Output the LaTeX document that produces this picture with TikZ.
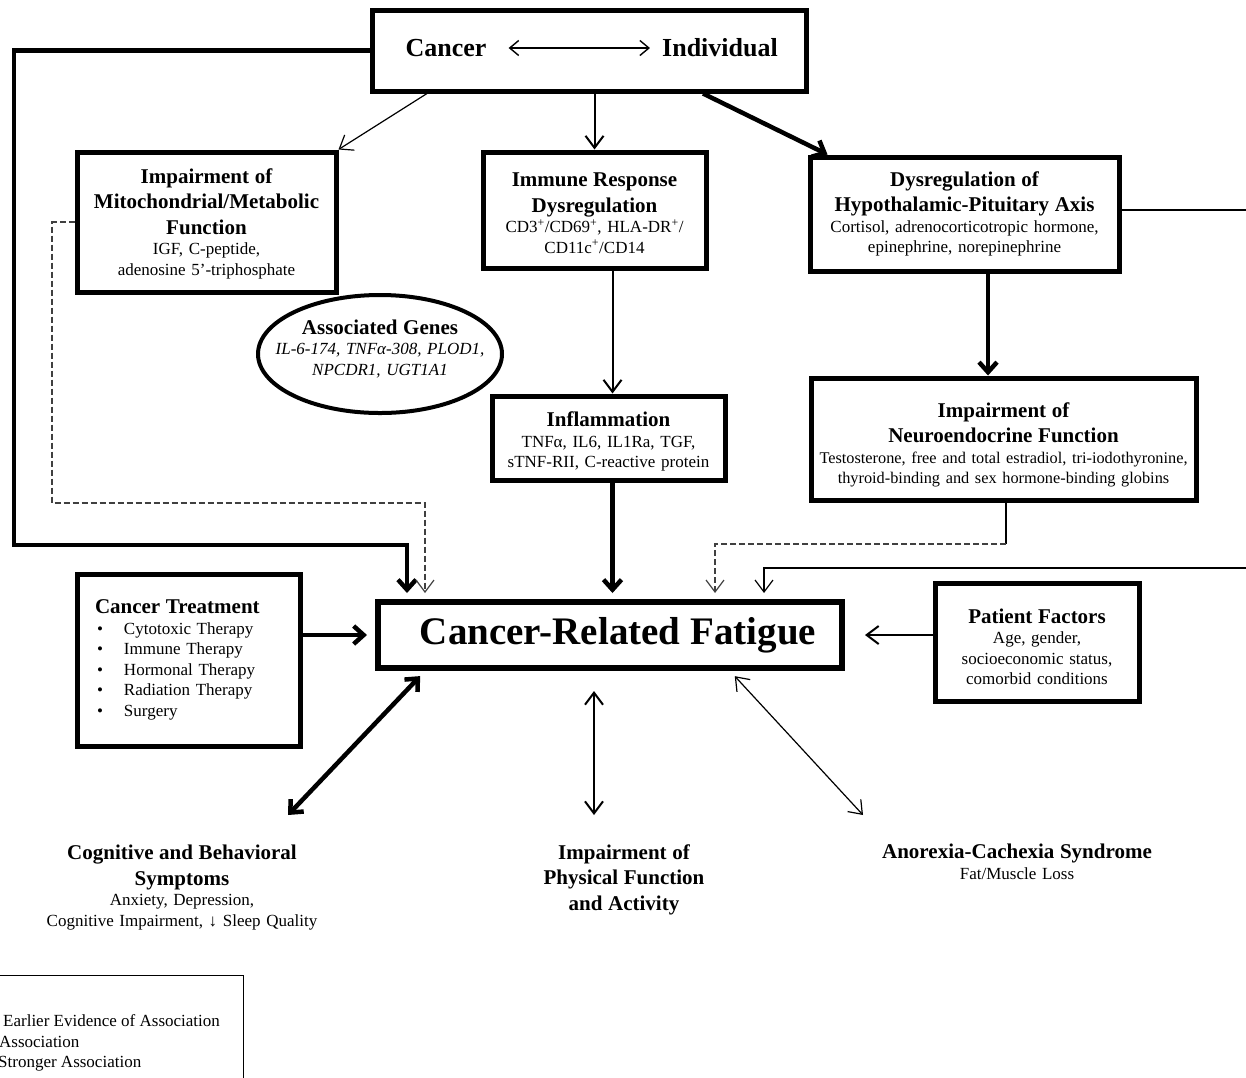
\documentclass[tikz,border=0pt]{standalone}
\usepackage{fontspec}
\setmainfont{Liberation Serif}
\usetikzlibrary{arrows.meta,shapes.geometric}
\newcommand\myhd{\bfseries\fontsize{21}{25.5}\selectfont}
\newcommand\mynm{\normalfont\fontsize{17}{20.5}\selectfont}
\newcommand\mybul{\makebox[29pt][l]{\hspace{2pt}•}}
\newcommand\mydown[1]{\rule{0pt}{#1}}
\tikzset{
  box/.style={draw, line width=5pt, inner sep=0pt, align=center, font=\mynm},
  thickln/.style={line width=4.5pt},
  medln/.style={line width=2pt},
  thinln/.style={line width=1.2pt},
  dashln/.style={line width=1.2pt, black!75, dash pattern=on 6pt off 3pt},
  bigtip/.style={>={Straight Barb[length=10pt,width=18pt]}, ->},
  bigtips/.style={>={Straight Barb[length=10pt,width=18pt]}, <->},
  smalltip/.style={>={Straight Barb[length=12pt,width=18pt]}, ->},
  smalltips/.style={>={Straight Barb[length=12pt,width=18pt]}, <->},
  lbl/.style={align=center, inner sep=0pt, font=\mynm}
}
\begin{document}
\begin{tikzpicture}[x=1pt,y=-1pt]
\useasboundingbox (0,0) rectangle (1246,1077);
\fill[white] (0,0) rectangle (1246,1077);

% top box
\node[box, minimum width=434pt, minimum height=81pt] (top) at (589,50.5) {};
\node[inner sep=0pt, font=\bfseries\fontsize{26}{30}\selectfont] (cancerT) at (446,48) {Cancer};
\node[inner sep=0pt, font=\bfseries\fontsize{26}{30}\selectfont] (indivT) at (720,48) {Individual};
\draw[line width=1.4pt, >={Straight Barb[length=9pt,width=15pt]}, <->, shorten <=22pt, shorten >=12pt] (cancerT.east) -- (indivT.west);

% second row
\node[box, minimum width=259pt, minimum height=140pt, text width=255pt] (mito) at (206.5,222)
  {{\myhd\mydown{18.5pt}Impairment of\\Mitochondrial/Metabolic\\Function\par}{\mynm IGF, C-peptide,\\adenosine 5’-triphosphate\par}};
\node[box, minimum width=223pt, minimum height=116pt, text width=219pt] (immune) at (594.5,210)
  {{\myhd\mydown{20pt}Immune Response\\Dysregulation\par}{\mynm CD3\textsuperscript{+}/CD69\textsuperscript{+}, HLA-DR\textsuperscript{+}/\\CD11c\textsuperscript{+}/CD14\par}};
\node[box, minimum width=309pt, minimum height=114pt, text width=305pt] (hpa) at (964.5,214)
  {{\myhd Dysregulation of\\Hypothalamic-Pituitary Axis\par}{\mynm Cortisol, adrenocorticotropic hormone,\\epinephrine, norepinephrine\par}};

% genes ellipse
\node[ellipse, draw, line width=4pt, fill=white, minimum width=244pt, minimum height=118pt, inner sep=0pt] (genes) at (380,354) {};
\node[lbl, text width=230pt] (genesT) at (380,349)
  {{\myhd Associated Genes\par}{\mynm\itshape IL-6-174, TNFα-308, PLOD1,\\NPCDR1, UGT1A1\par}};

% third row
\node[box, fill=white, minimum width=233pt, minimum height=84pt, text width=229pt] (infl) at (608.5,438)
  {{\myhd\mydown{22.5pt}Inflammation\par}{\mynm TNFα, IL6, IL1Ra, TGF,\\sTNF-RII, C-reactive protein\par}};
\node[box, minimum width=385pt, minimum height=122pt, text width=381pt] (neuro) at (1003.5,439)
  {{\myhd\mydown{26.5pt}Impairment of\\Neuroendocrine Function\par}{\normalfont\fontsize{16.3}{20.5}\selectfont Testosterone, free and total estradiol, tri-iodothyronine,\\thyroid-binding and sex hormone-binding globins\par}};

% central row
\node[box, line width=6pt, minimum width=464pt, minimum height=66pt, font=\bfseries\fontsize{39}{45}\selectfont] (crf) at (610,635) {\hspace*{16pt}Cancer-Related Fatigue};
\node[box, align=left, minimum width=223pt, minimum height=172pt, text width=187pt] (treat) at (188.5,660)
  {{\myhd Cancer Treatment\par}{\mynm \mybul Cytotoxic Therapy\\\mybul Immune Therapy\\\mybul Hormonal Therapy\\\mybul Radiation Therapy\\\mybul Surgery\par}};
\node[box, minimum width=204pt, minimum height=118pt, text width=200pt] (patient) at (1037,642)
  {{\myhd\mydown{24.5pt}Patient Factors\par}{\mynm Age, gender,\\socioeconomic status,\\comorbid conditions\par}};

% bottom labels
\node[lbl, text width=320pt, anchor=north] (cog) at (182,845)
  {{\myhd Cognitive and Behavioral\\Symptoms\par}{\mynm Anxiety, Depression,\\Cognitive Impairment, ↓ Sleep Quality\par}};
\node[lbl, text width=260pt, anchor=north] (phys) at (624,844)
  {{\myhd Impairment of\\Physical Function\\and Activity\par}};
\node[lbl, text width=320pt, anchor=north] (anor) at (1017,844)
  {{\myhd Anorexia-Cachexia Syndrome\par}{\mynm Fat/Muscle Loss\par}};

% legend
\node[draw, line width=1pt, minimum width=263pt, minimum height=115pt, inner sep=0pt] (legend) at (111.5,1032.5) {};
\node[lbl, anchor=west] (leg1) at (3,1021) {Earlier Evidence of Association};
\node[lbl, anchor=west] (leg2) at (-1,1042) {Association};
\node[lbl, anchor=west] (leg3) at (-2,1064) {Stronger Association};

% connectors from top
\coordinate (lc) at (14,545);
\draw[thickln, bigtip, shorten >=6pt] (top.west) -| (lc) -| ([xshift=32pt]crf.north west);
\draw[thinln, smalltip] ([xshift=-162pt]top.south) -- (mito.north east);
\draw[medln, smalltip] (immune.north |- top.south) -- (immune.north);
\draw[thickln, bigtip] ([xshift=114pt]top.south) -- ([xshift=20pt]hpa.north west);

% vertical chains
\draw[medln, smalltip] ([xshift=4pt]infl.north |- immune.south) -- ([xshift=4pt]infl.north);
\draw[thickln, bigtip] ([xshift=23.5pt]hpa.south) -- ([xshift=23.5pt]hpa.south |- neuro.north);
\draw[thickln, bigtip, shorten >=6pt] ([xshift=4pt]infl.south) -- ([xshift=4pt]infl.south |- crf.north);

% dashed from mitochondrial
\coordinate (dm) at (52,503);
\draw[dashln, smalltip, shorten >=6pt] (mito.west) -| (dm) -| ([xshift=50pt]crf.north west);

% from neuroendocrine
\coordinate (nd) at (1006,544);
\draw[thinln] ([xshift=2.5pt]neuro.south) -- (nd);
\draw[dashln, smalltip, shorten >=6pt] (nd) -| ([xshift=340pt]crf.north west);

% from HPA via right edge
\coordinate (ra) at (1252,210);
\coordinate (rb) at (1252,568);
\draw[thinln, smalltip, shorten >=6pt] ([yshift=4pt]hpa.east) -- (ra) -- (rb) -| ([xshift=389pt]crf.north west);

% side inputs
\draw[thickln, bigtip, shorten >=8pt] (treat.east |- crf.west) -- (crf.west);
\draw[medln, smalltip, shorten >=20pt] (patient.west |- crf.east) -- (crf.east);

% outcomes
\coordinate (cogE) at (288,815);
\coordinate (physE) at (594,815);
\coordinate (anorE) at (863,815);
\draw[thickln, bigtips, shorten >=7pt] (cogE) -- ([xshift=50pt]crf.south west);
\draw[medln, smalltips, shorten <=20pt] ([xshift=-16pt]crf.south) -- (physE);
\draw[thinln, smalltips, shorten >=7pt] (anorE) -- ([xshift=355pt]crf.south west);
\end{tikzpicture}
\end{document}
